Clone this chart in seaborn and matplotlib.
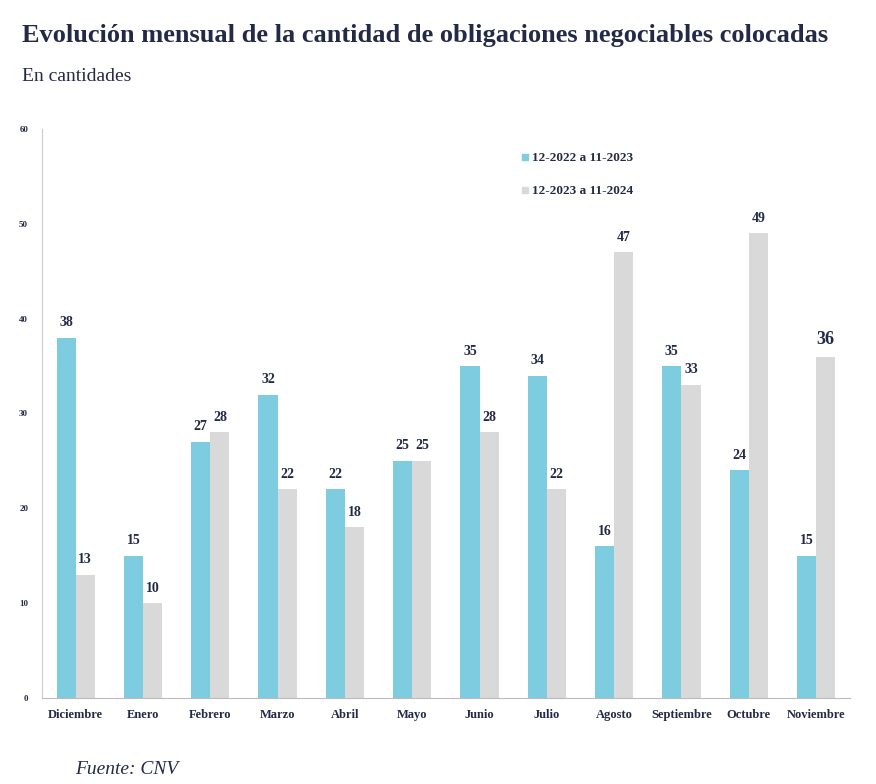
import pandas as pd
import numpy as np
import matplotlib.pyplot as plt
import seaborn as sns
from matplotlib.lines import Line2D

# datos
meses = ["Diciembre", "Enero", "Febrero", "Marzo", "Abril", "Mayo", "Junio",
         "Julio", "Agosto", "Septiembre", "Octubre", "Noviembre"]
serie_1 = [38, 15, 27, 32, 22, 25, 35, 34, 16, 35, 24, 15]
serie_2 = [13, 10, 28, 22, 18, 25, 28, 22, 47, 33, 49, 36]
periodos = ["12-2022 a 11-2023", "12-2023 a 11-2024"]
y_ticks = [0, 10, 20, 30, 40, 50, 60]

azul = "#7ECCE0"
gris = "#D9D9D9"
texto = "#232A45"

df = pd.DataFrame({
    "mes": meses * 2,
    "valor": serie_1 + serie_2,
    "periodo": [periodos[0]] * len(meses) + [periodos[1]] * len(meses),
})

sns.set_style("white")
plt.rcParams['font.family'] = ['Liberation Serif', 'DejaVu Serif']

fig = plt.figure(figsize=(8.76, 7.84), dpi=100)
ax = fig.add_axes([0.048, 0.1097, 0.922, 0.7258])

sns.barplot(data=df, x="mes", y="valor", hue="periodo", order=meses,
            hue_order=periodos, palette=[azul, gris], width=0.57,
            saturation=1, linewidth=0, ax=ax, legend=False)

# etiquetas de valores
for i, cont in enumerate(ax.containers):
    for j, bar in enumerate(cont):
        v = bar.get_height()
        fs = 13 if (i == 1 and j == len(meses) - 1) else 10
        ax.text(bar.get_x() + bar.get_width() / 2, v + 0.9, f"{int(v)}",
                ha="center", va="bottom", fontsize=fs, fontweight="bold",
                color=texto)

ax.set_ylim(0, 60)
ax.set_xlim(-0.5, len(meses) - 0.5)
ax.set_yticks(y_ticks)
ax.set_yticklabels([str(t) for t in y_ticks], fontsize=6.5, fontweight="bold", color=texto)
ax.set_xticks(range(len(meses)))
ax.set_xticklabels(meses, fontsize=9, fontweight="bold", color=texto)
ax.set_xticks(np.arange(-0.5, len(meses)), minor=True)
ax.tick_params(axis="x", which="major", length=0, pad=8)
ax.tick_params(axis="x", which="minor", length=5, color="#BBBBBB", direction="out")
ax.tick_params(axis="y", length=4, color="#BBBBBB", direction="out", pad=6)
ax.set_xlabel("")
ax.set_ylabel("")

for s in ["top", "right"]:
    ax.spines[s].set_visible(False)
ax.spines["left"].set_color("#CCCCCC")
ax.spines["bottom"].set_color("#BBBBBB")

handles = [Line2D([0], [0], marker="s", linestyle="", markersize=5,
                  markerfacecolor=c, markeredgecolor=c) for c in [azul, gris]]
ax.legend(handles, periodos, loc="upper left", bbox_to_anchor=(0.575, 0.98),
          frameon=False, handletextpad=0.05, labelspacing=1.55, handlelength=1.0,
          prop={"weight": "bold", "size": 9.5}, labelcolor=texto)

fig.text(0.025, 0.955, "Evolución mensual de la cantidad de obligaciones negociables colocadas",
         fontsize=19, fontweight="bold", color=texto, va="center", ha="left")
fig.text(0.025, 0.902, "En cantidades", fontsize=14, color=texto, va="center", ha="left")
fig.text(0.086, 0.018, "Fuente: CNV", fontsize=14, fontstyle="italic", color=texto,
         va="center", ha="left")

fig.savefig("out.png", dpi=100)
